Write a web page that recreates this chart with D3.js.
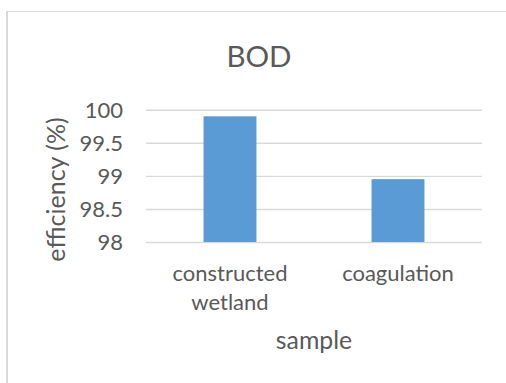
<!DOCTYPE html>
<html>
<head>
<meta charset="utf-8">
<script src="https://cdn.jsdelivr.net/npm/d3@7"></script>
<style>
  html, body { margin: 0; padding: 0; background: #fff; }
  svg { display: block; }
  text { font-family: Lato, "Open Sans", sans-serif; fill: #595959; }
</style>
</head>
<body>
<svg id="chart" width="506" height="383"></svg>
<script>
// BOD removal efficiency by treatment sample
const categories = [["constructed", "wetland"], ["coagulation"]];
const efficiency = [99.9, 98.95];
const yTicks = [98, 98.5, 99, 99.5, 100];
const chartTitle = "BOD";
const yTitle = "efficiency (%)";
const xTitle = "sample";

const svg = d3.select("#chart");
const W = 506, H = 383;

// chart area frame (left and top edges visible)
svg.append("line")
  .attr("x1", 7).attr("x2", 7).attr("y1", 11).attr("y2", H)
  .attr("stroke", "#d9d9d9").attr("stroke-width", 2);
svg.append("line")
  .attr("x1", 6).attr("x2", W).attr("y1", 11.5).attr("y2", 11.5)
  .attr("stroke", "#d9d9d9").attr("stroke-width", 1.2);

const plot = { left: 146, right: 482, top: 109.7, bottom: 242 };

const keys = categories.map(c => c.join(" "));
const x = d3.scaleBand()
  .domain(keys)
  .range([plot.left, plot.right])
  .paddingInner(0.685)
  .paddingOuter(0.3425);

const y = d3.scaleLinear()
  .domain([98, 100])
  .range([plot.bottom, plot.top]);

// horizontal gridlines with value labels
const yAxis = d3.axisLeft(y)
  .tickValues(yTicks)
  .tickSize(-(plot.right - plot.left))
  .tickFormat(d => d3.format("")(d));

const gy = svg.append("g")
  .attr("transform", `translate(${plot.left},0)`)
  .call(yAxis);
gy.select(".domain").remove();
gy.selectAll(".tick line")
  .attr("stroke", "#d9d9d9")
  .attr("stroke-width", 1.4);
gy.selectAll(".tick text")
  .attr("x", 123 - plot.left)
  .attr("dy", "0.36em")
  .style("font-size", "22px")
  .attr("fill", "#595959");

// bars
svg.append("g").selectAll("rect")
  .data(efficiency)
  .join("rect")
  .attr("x", (d, i) => x(keys[i]))
  .attr("width", x.bandwidth())
  .attr("y", d => y(d))
  .attr("height", d => y(98) - y(d))
  .attr("fill", "#5b9bd5");

// category labels
const gx = svg.append("g");
categories.forEach((lines, i) => {
  const t = gx.append("text")
    .attr("text-anchor", "middle")
    .style("font-size", "22px");
  lines.forEach((ln, j) => {
    t.append("tspan")
      .attr("x", x(keys[i]) + x.bandwidth() / 2)
      .attr("y", 281 + j * 28.5)
      .text(ln);
  });
});

// titles
svg.append("text")
  .attr("x", 259).attr("y", 66.5)
  .attr("text-anchor", "middle")
  .style("font-size", "29.5px")
  .text(chartTitle);

svg.append("text")
  .attr("x", 314).attr("y", 349)
  .attr("text-anchor", "middle")
  .style("font-size", "24.8px")
  .text(xTitle);

svg.append("text")
  .attr("transform", "translate(65,189.5) rotate(-90)")
  .attr("text-anchor", "middle")
  .style("font-size", "25px")
  .text(yTitle);
</script>
</body>
</html>
